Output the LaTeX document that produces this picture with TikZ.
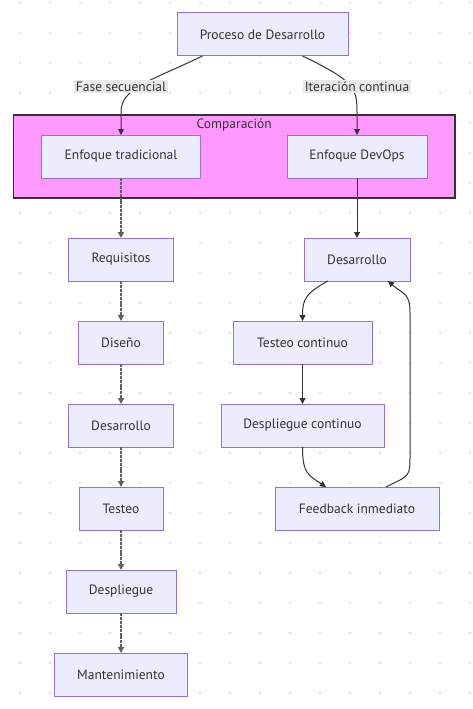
\documentclass[tikz,border=0pt]{standalone}
\usepackage{fontspec}
\setmainfont{PT Sans}
\usetikzlibrary{arrows.meta,positioning,calc,fit,backgrounds}
\definecolor{nodefill}{HTML}{ECECFF}
\definecolor{nodeline}{HTML}{9370DB}
\definecolor{ink}{HTML}{333333}
\definecolor{clusterfill}{HTML}{FF99FF}
\definecolor{lblfill}{HTML}{E8E8E8}
\definecolor{griddot}{HTML}{DEDEDE}

\begin{document}
\begin{tikzpicture}[
    x=1pt, y=-1pt,
    font=\fontsize{13.5}{16}\selectfont,
    >={Triangle[length=6pt,width=6pt]},
    box/.style={draw=nodeline, fill=nodefill, line width=1pt, text=ink, align=center, minimum height=43pt, inner xsep=2pt, inner ysep=0pt, outer sep=0pt},
    flow/.style={->, draw=ink, line width=1pt},
    seq/.style={flow, draw=black!62, line width=1.3pt, dash pattern=on 3pt off 0.9pt},
    elabel/.style={fill=lblfill, text=ink, inner sep=2pt},
    cluster/.style={draw=ink, fill=clusterfill, line width=1.6pt}
]

% ------------------------
% Canvas and dot grid
% ------------------------
\useasboundingbox (0,0) rectangle (472,709);
\begin{scope}[on background layer]
    \fill[white] (0,0) rectangle (472,709);
    \foreach \gx in {20,50,...,470}
        \foreach \gy in {0,30,...,690}
            \fill[griddot] (\gx,\gy+2.7) circle (1.3pt);
\end{scope}

% ------------------------
% Root and comparison
% ------------------------
\node[box, minimum width=171pt] (proc) at (262.5,34.5) {Proceso de Desarrollo};
\node[box, minimum width=159pt] (trad) at (121,156.5) {Enfoque tradicional};
\node[box, minimum width=140pt] (devops) at (357,156.5) {Enfoque DevOps};

% ------------------------
% Traditional chain
% ------------------------
\node[box, minimum width=105pt, below=60pt of trad] (req) {Requisitos};
\node[box, minimum width=85pt, below=40pt of req] (dis) {Diseño};
\node[box, minimum width=105pt, below=40pt of dis] (desL) {Desarrollo};
\node[box, minimum width=84pt, below=40pt of desL] (test) {Testeo};
\node[box, minimum width=110pt, below=40pt of test] (desp) {Despliegue};
\node[box, minimum width=133pt, below=40pt of desp] (mant) {Mantenimiento};

\draw[seq] (trad.south) -- (req.north);
\draw[seq] (req.south) -- (dis.north);
\draw[seq] (dis.south) -- (desL.north);
\draw[seq] (desL.south) -- (test.north);
\draw[seq] (test.south) -- (desp.north);
\draw[seq] (desp.south) -- (mant.north);

% ------------------------
% DevOps loop
% ------------------------
\node[box, minimum width=106pt, below=60pt of devops] (desR) {Desarrollo};
\node[box, minimum width=139pt, below=40pt of desR, xshift=-54.5pt] (tc) {Testeo continuo};
\node[box, minimum width=163pt, below=40pt of tc] (dc) {Despliegue continuo};
\node[box, minimum width=164pt, below=40pt of dc, xshift=54.5pt] (fb) {Feedback inmediato};

\draw[flow] (devops.south) -- (desR.north);
\draw[flow] ($(desR.south)+(-29,0)$) .. controls +(-22,12) and +(0,-22) .. (tc.north);
\draw[flow] (tc.south) -- (dc.north);
\draw[flow] (dc.south) .. controls +(0,26) and +(-18,-12) .. ($(fb.north)+(-31,0)$);
\draw[flow] ($(fb.north)+(29,0)$) .. controls +(24,-12) and +(0,22) .. ($(desR.east |- fb.north)+(0,-32)$)
    -- ($(desR.south east)+(0,32)$) .. controls +(0,-20) and +(16,14) .. ($(desR.south)+(31,0)$);

% ------------------------
% Root edges with labels
% ------------------------
\draw[flow] ($(proc.south)+(-60,0)$) .. controls +(-52,25) and +(0,-24) .. ($(trad.north)+(0,-23)$) -- (trad.north);
\draw[flow] ($(proc.south)+(40,0)$) .. controls +(52,25) and +(0,-24) .. ($(devops.north)+(0,-23)$) -- (devops.north);
\node[elabel] (fase) at (121,86.5) {Fase secuencial};
\node[elabel] (iter) at (357,86.5) {Iteración continua};

% ------------------------
% Comparison group
% ------------------------
\begin{scope}[on background layer]
    \node[cluster, fit=(trad)(devops), inner xsep=28pt, inner ysep=20pt] (cmp) {};
\end{scope}
\node[text=ink, anchor=north, inner sep=4pt] (cmptitle) at (cmp.north) {Comparación};

\end{tikzpicture}
\end{document}
